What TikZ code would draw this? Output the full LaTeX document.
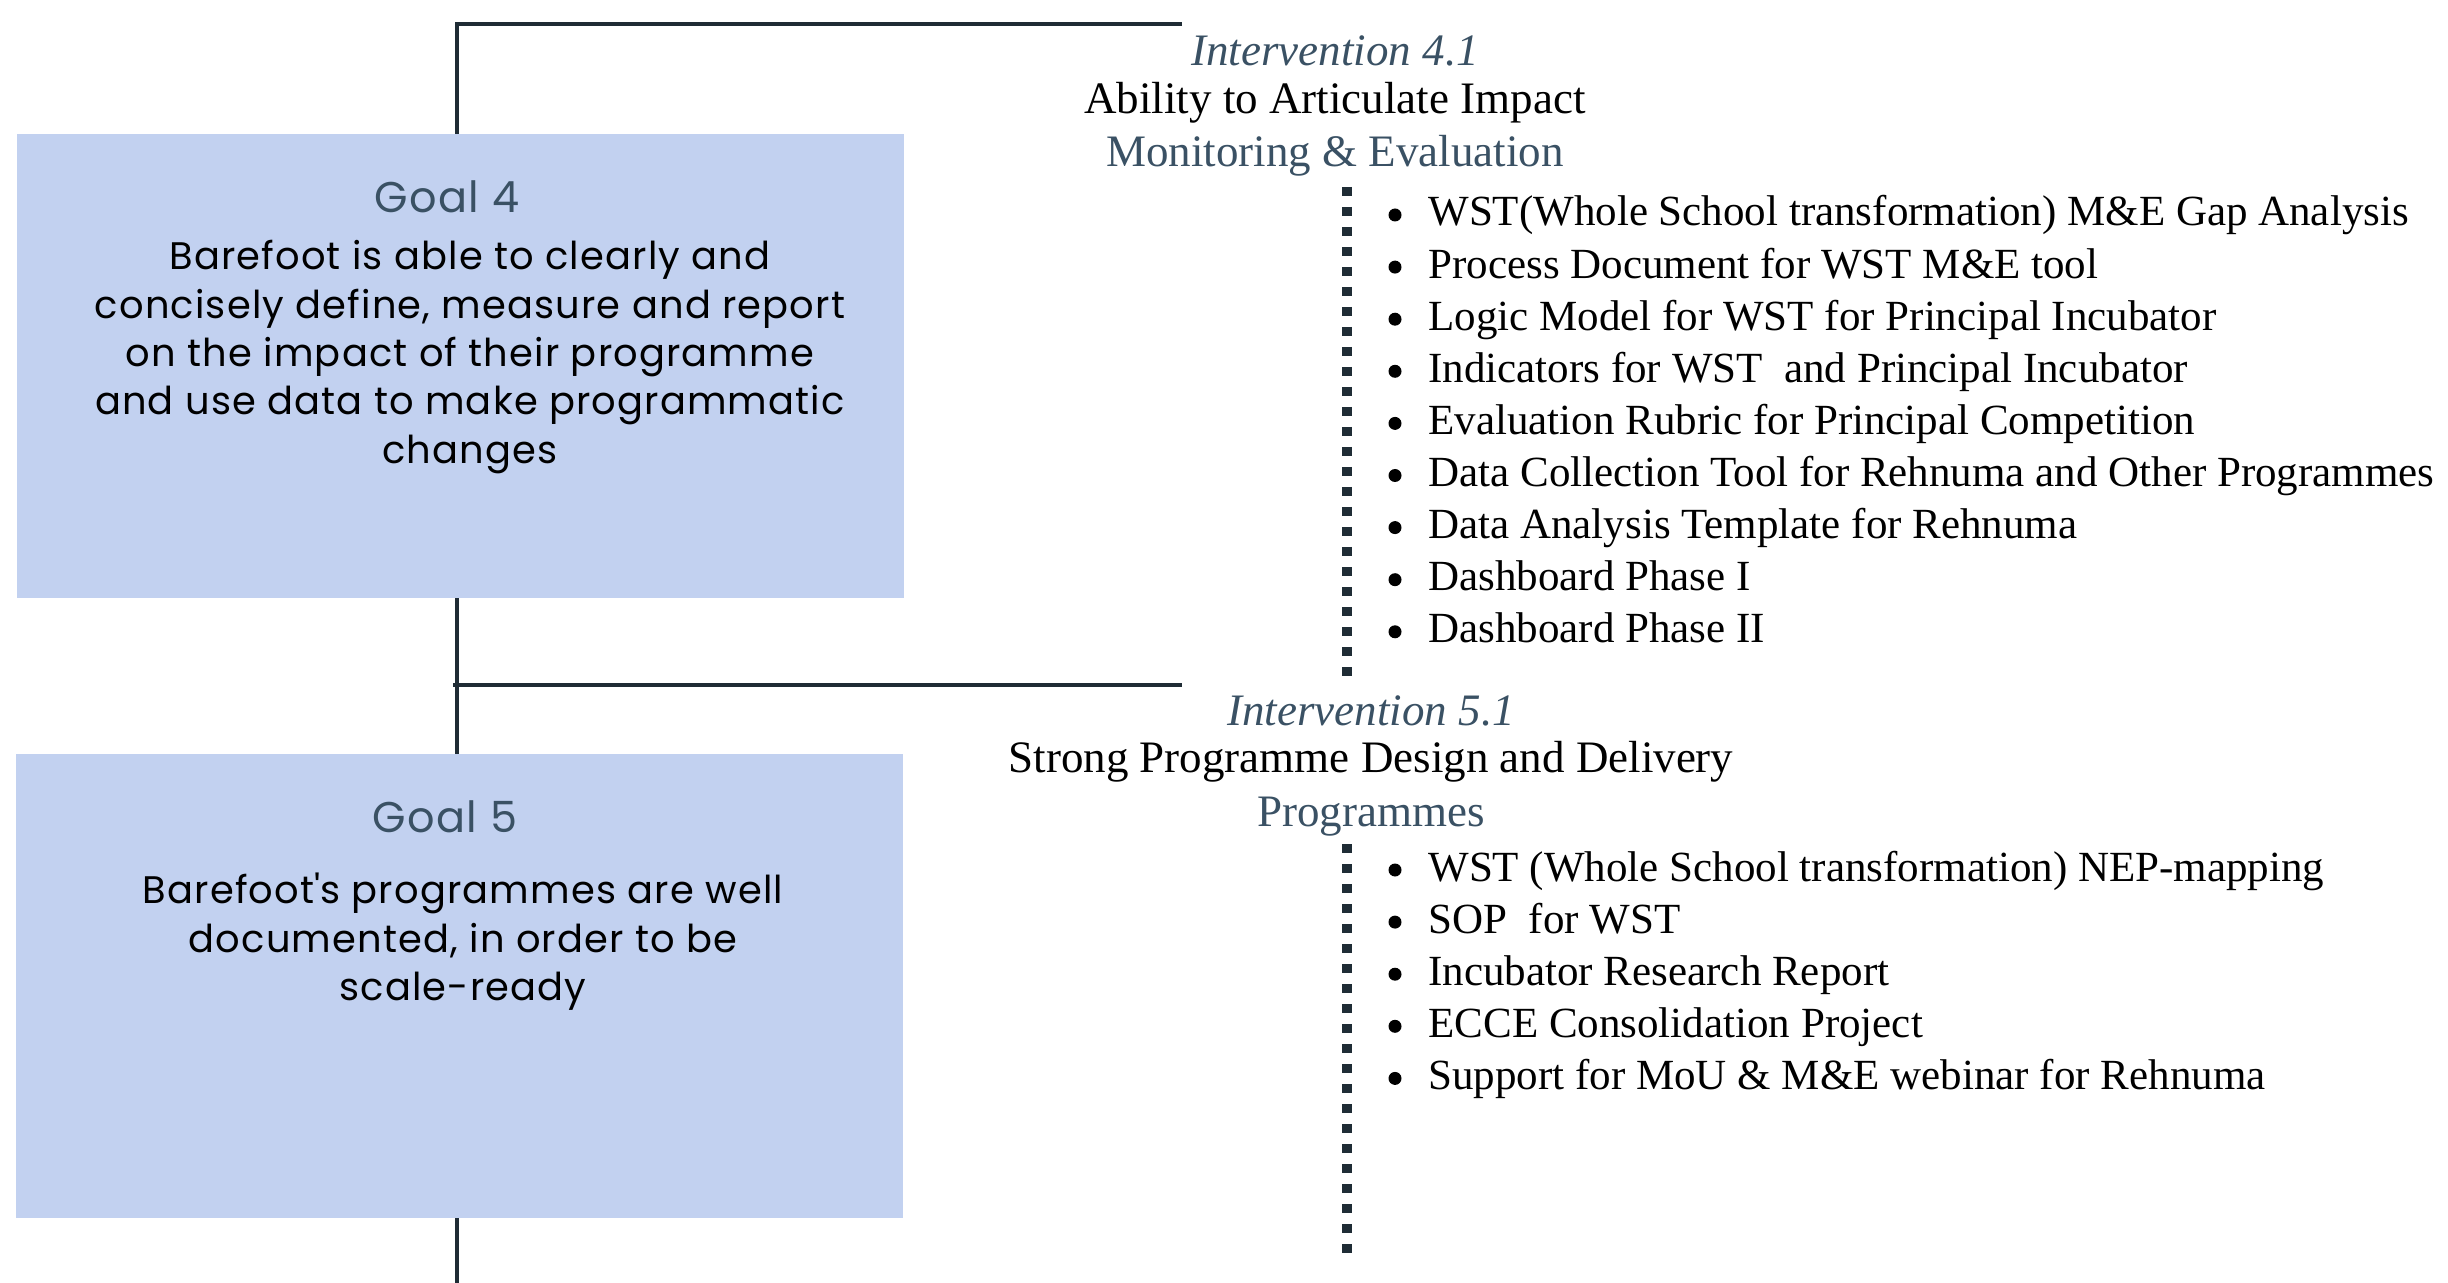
\documentclass[tikz,border=0pt]{standalone}
\usepackage{fontspec}
\setmainfont{Liberation Serif}
\newfontfamily\goalfont{Poppins}[LetterSpace=3]
\usetikzlibrary{positioning}

\definecolor{spine}{HTML}{1F2C35}
\definecolor{slate}{HTML}{3A5164}
\definecolor{goalfill}{HTML}{C2D1F0}

\tikzset{
  goalbox/.style={fill=goalfill, minimum width=443.5pt, minimum height=232pt, inner sep=0pt},
  goaltitle/.style={font=\goalfont\fontsize{21.5}{25}\selectfont, text=slate},
  goaltext/.style={font=\goalfont\fontsize{19.2}{24.2}\selectfont, align=center},
  spineline/.style={draw=spine, line width=2pt},
  dots/.style={draw=spine, line width=5pt, dash pattern=on 4.5pt off 5.5pt},
  intro/.style={font=\fontsize{22.5}{26}\selectfont\itshape, text=slate, anchor=base},
  aim/.style={font=\fontsize{22.5}{26}\selectfont, anchor=base},
  area/.style={font=\fontsize{22.5}{26}\selectfont, text=slate, anchor=base},
  item/.style={font=\fontsize{21.5}{26}\selectfont, anchor=base west, inner sep=0pt},
  dot/.style={circle, fill=black, inner sep=0pt, minimum size=6.5pt}
}

\begin{document}
\begin{tikzpicture}[x=0.5pt, y=-0.5pt]
	\useasboundingbox (0,0) rectangle (2448,1283);

	% Spine
	\coordinate (top) at (457,24);
	\coordinate (bottom) at (457,1283);
	\coordinate (arm4) at (1182,24);
	\coordinate (fork5) at (453,685);
	\coordinate (arm5) at (1182,685);

	% Goal boxes
	\node[goalbox] (g4) at (460.5,366) {};
	\node[goalbox] (g5) at (459,986) {};

	\draw[spineline] (arm4) -- (top) -- (g4.north -| top);
	\draw[spineline] (g4.south -| top) -- (g5.north -| top);
	\draw[spineline] (g5.south -| top) -- (bottom);
	\draw[spineline] (fork5) -- (arm5);

	% Goal 4
	\node[goaltitle] (g4t) at (447,197) {Goal 4};
	\node[goaltext] (g4x) at (470,357) {Barefoot is able to clearly and\\ concisely define, measure and report\\ on the impact of their programme\\ and use data to make programmatic\\ changes};

	% Goal 5
	\node[goaltitle] (g5t) at (445,817) {Goal 5};
	\node[goaltext] (g5x) at (463,942) {Barefoot\textquotesingle s programmes are well\\ documented, in order to be\\ scale-ready};

	% Intervention 4.1
	\node[intro] (i4) at (1335,66) {Intervention 4.1};
	\node[aim] (a4) at (1335,114) {Ability to Articulate Impact};
	\node[area] (r4) at (1335,167) {Monitoring \& Evaluation};
	\coordinate (d4top) at (1347,187);
	\coordinate (d4end) at (1347,679);
	\draw[dots] (d4top) -- (d4end);
	\foreach \t [count=\i] in {WST(Whole School transformation) M\&E Gap Analysis,
		Process Document for WST M\&E tool,
		Logic Model for WST for Principal Incubator,
		Indicators for WST\ \ and Principal Incubator,
		Evaluation Rubric for Principal Competition,
		Data Collection Tool for Rehnuma and Other Programmes,
		Data Analysis Template for Rehnuma,
		Dashboard Phase I,
		Dashboard Phase II}{
		\node[dot] (b4\i) at (1395,{215+52.1*(\i-1)}) {};
		\node[item] (m4\i) at (1428,{226+52.1*(\i-1)}) {\t};
	}

	% Intervention 5.1
	\node[intro] (i5) at (1371,725) {Intervention 5.1};
	\node[aim] (a5) at (1371,772) {Strong Programme Design and Delivery};
	\node[area] (r5) at (1371,826) {Programmes};
	\coordinate (d5top) at (1347,844);
	\coordinate (d5end) at (1347,1257);
	\draw[dots] (d5top) -- (d5end);
	\foreach \t [count=\i] in {WST (Whole School transformation) NEP-mapping,
		SOP\ \ for WST,
		Incubator Research Report,
		ECCE Consolidation Project,
		Support for MoU \& M\&E webinar for Rehnuma}{
		\node[dot] (b5\i) at (1395,{870+52.1*(\i-1)}) {};
		\node[item] (m5\i) at (1428,{881+52.1*(\i-1)}) {\t};
	}
\end{tikzpicture}
\end{document}
